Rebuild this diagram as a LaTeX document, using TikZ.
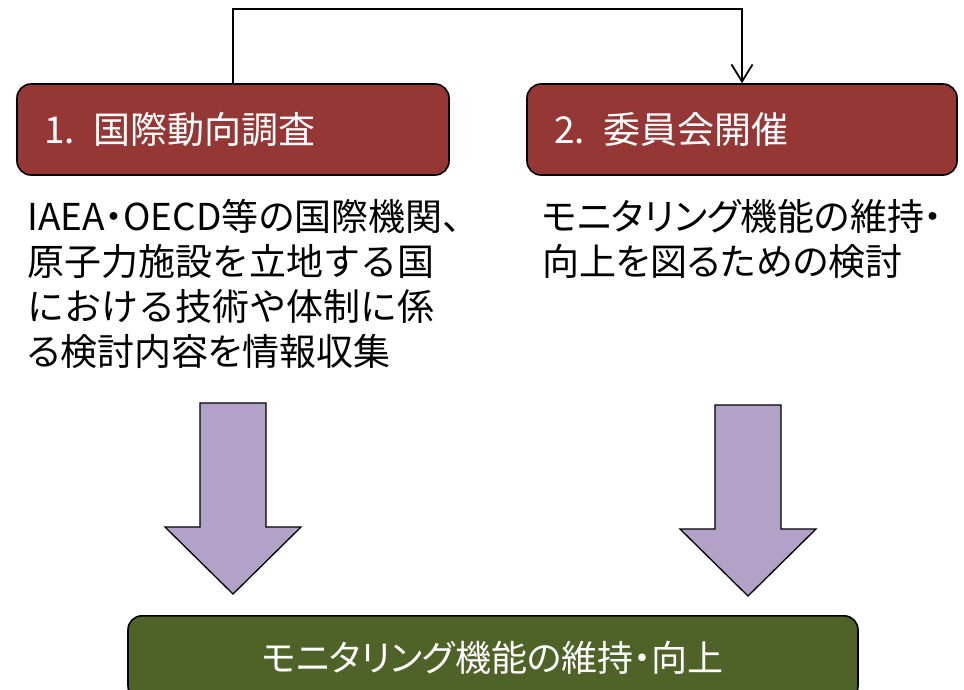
\documentclass[tikz,border=0pt]{standalone}
\usepackage{fontspec}
\setmainfont{Noto Sans CJK JP}[RawFeature=+palt]
\newfontfamily\fullwidth{Noto Sans CJK JP}
\usetikzlibrary{arrows.meta}

\definecolor{stepred}{HTML}{953735}
\definecolor{goalgreen}{HTML}{4F6228}
\definecolor{arrowlav}{HTML}{B3A2C7}

\begin{document}
\begin{tikzpicture}[x=1pt, y=-1pt]
    \useasboundingbox (0,0) rectangle (964,689);

    % --- DEFINE STYLES ---
    % Style for the two step boxes
    \tikzstyle{stepbox} = [draw, line width=1.6pt, rounded corners=14pt, fill=stepred, text=white, minimum height=91pt, inner xsep=27pt, align=left, font=\fontsize{37}{40}\selectfont]
    % Style for the result box at the bottom
    \tikzstyle{goalbox} = [stepbox, fill=goalgreen, align=center, minimum width=730pt, minimum height=84pt, font=\fontsize{36}{40}\selectfont]
    % Style for the description text under each box
    \tikzstyle{desc} = [anchor=north west, inner sep=0pt, align=left, font=\fontsize{37}{45}\selectfont]
    % Style for the thin connector and the block arrows
    \tikzstyle{flow} = [line width=1.8pt, -{Straight Barb[length=17pt, width=21pt]}]
    \tikzstyle{bigarrow} = [draw, line width=1.3pt, fill=arrowlav]

    % --- STEP BOXES ---
    \node[stepbox, text width=378pt] (survey) at (233,129.5) {1. 国際動向調査};
    \node[stepbox, text width=376pt] (committee) at (742,129.5) {2. 委員会開催};

    % connector over the top
    \coordinate (ceiling) at (0,9);
    \draw[flow] (survey.north) -- (survey.north |- ceiling) -| (committee.north);

    % --- DESCRIPTIONS ---
    \node[desc] (surveytext) at (27,199) {IAEA・OECD等の国際機関、\\{\fullwidth 原子力施設を立地する国}\\{\fullwidth における技術や体制に係}\\る検討内容を情報収集};
    \node[desc] (committeetext) at (542,199) {モニタリング機能の維持・\\向上を図るための検討};

    % --- BLOCK ARROWS ---
    \foreach \cx/\ty in {233/403, 748/405} {
        \draw[bigarrow] (\cx-33,\ty) -- (\cx+33,\ty) -- (\cx+33,\ty+124) -- (\cx+68,\ty+124)
            -- (\cx,\ty+191) -- (\cx-68,\ty+124) -- (\cx-33,\ty+124) -- cycle;
    }

    % --- RESULT ---
    \node[goalbox, anchor=north] (goal) at (493,615) {モニタリング機能の維持・向上};
\end{tikzpicture}
\end{document}
